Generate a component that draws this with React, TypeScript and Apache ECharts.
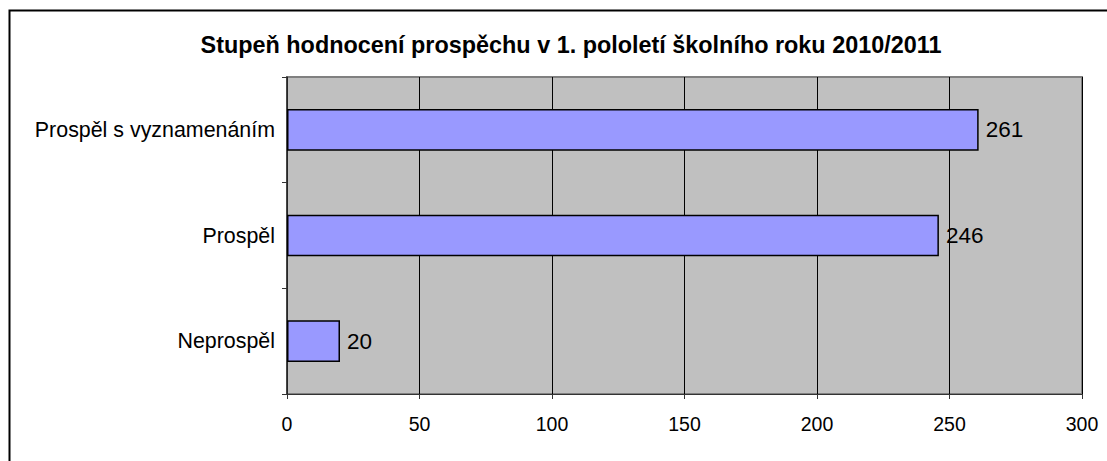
import React, { useEffect, useRef } from "react";
import * as echarts from "echarts";

const titleText = "Stupeň hodnocení prospěchu v 1. pololetí školního roku 2010/2011";
const categories = ["Neprospěl", "Prospěl", "Prospěl s vyznamenáním"];
const values = [20, 246, 261];
const xTicks = [0, 50, 100, 150, 200, 250, 300];

const FONT = "'Liberation Sans', Arial, sans-serif";

export default function App() {
  const ref = useRef<HTMLDivElement>(null);
  useEffect(() => {
    document.body.style.margin = "0";
    const chart = echarts.init(ref.current!, null, { renderer: "svg" });
    chart.setOption({
      animation: false,
      backgroundColor: "#FFFFFF",
      title: {
        text: titleText,
        left: 566,
        top: 28,
        textAlign: "center",
        textStyle: { fontFamily: FONT, fontSize: 23.4, fontWeight: "bold", color: "#000" },
      },
      graphic: [
        {
          type: "rect",
          shape: { x: 9.5, y: 10.5, width: 1200, height: 600 },
          style: { fill: "none", stroke: "#000", lineWidth: 2 },
          silent: true,
          z: 100,
        },
      ],
      grid: {
        left: 287,
        right: 25,
        top: 77,
        bottom: 67,
        show: true,
        backgroundColor: "#C0C0C0",
        borderColor: "#808080",
        borderWidth: 2,
      },
      xAxis: {
        type: "value",
        min: xTicks[0],
        max: xTicks[xTicks.length - 1],
        interval: 50,
        axisLine: { show: true, lineStyle: { color: "#333", width: 1 } },
        axisTick: { show: true, length: 5, lineStyle: { color: "#333" } },
        axisLabel: { fontFamily: FONT, fontSize: 19.5, color: "#000", margin: 20 },
        splitLine: { show: true, lineStyle: { color: "#000", width: 1 } },
      },
      yAxis: {
        type: "category",
        data: categories,
        axisLine: { show: true, lineStyle: { color: "#333", width: 1.5 } },
        axisTick: { show: true, length: 5, lineStyle: { color: "#333" } },
        axisLabel: { fontFamily: FONT, fontSize: 21.4, color: "#000", margin: 12 },
      },
      series: [
        {
          type: "bar",
          data: values,
          barWidth: "39.5%",
          itemStyle: { color: "#9999FF", borderColor: "#000", borderWidth: 1.5 },
          label: {
            show: true,
            position: "right",
            distance: 7,
            fontFamily: FONT,
            fontSize: 22.5,
            color: "#000",
          },
        },
      ],
    });
    return () => chart.dispose();
  }, []);
  return <div ref={ref} style={{ width: 1107, height: 461 }} />;
}
